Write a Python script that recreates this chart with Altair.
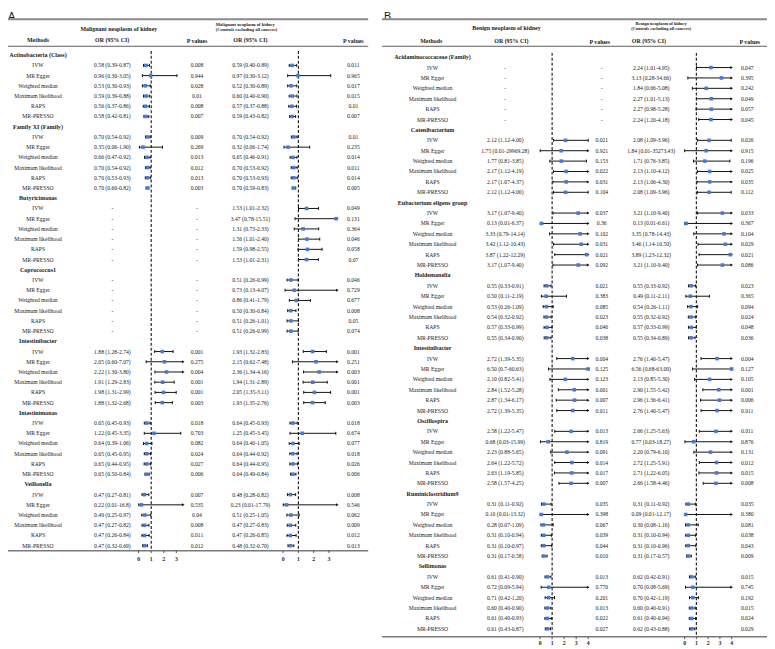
import re
import altair as alt
import pandas as pd

# ---------------- data ----------------
methods = ["IVW", "MR Egger", "Weighted median", "Maximum likelihood", "RAPS", "MR-PRESSO"]

A_groups = ["Actinobacteria (Class)", "Family XI (Family)", "Butyricimonas", "Coprococcus1",
            "Intestinibacter", "Intestinimonas", "Veillonella"]
A1_or = [
    "0.58 (0.39-0.87)", "0.96 (0.30-3.05)", "0.53 (0.30-0.93)", "0.59 (0.39-0.88)", "0.56 (0.37-0.86)", "0.58 (0.42-0.81)",
    "0.70 (0.54-0.92)", "0.35 (0.06-1.90)", "0.66 (0.47-0.92)", "0.70 (0.54-0.92)", "0.70 (0.53-0.93)", "0.70 (0.60-0.82)",
    "-", "-", "-", "-", "-", "-",
    "-", "-", "-", "-", "-", "-",
    "1.88 (1.28-2.74)", "2.05 (0.60-7.07)", "2.22 (1.30-3.80)", "1.91 (1.29-2.83)", "1.98 (1.31-2.99)", "1.88 (1.32-2.68)",
    "0.65 (0.45-0.93)", "1.22 (0.45-3.35)", "0.64 (0.39-1.06)", "0.65 (0.45-0.95)", "0.65 (0.44-0.95)", "0.65 (0.50-0.84)",
    "0.47 (0.27-0.81)", "0.22 (0.01-16.8)", "0.49 (0.25-0.97)", "0.47 (0.27-0.82)", "0.47 (0.26-0.84)", "0.47 (0.32-0.69)",
]
A1_p = [
    "0.008", "0.944", "0.028", "0.01", "0.008", "0.007",
    "0.009", "0.269", "0.013", "0.012", "0.013", "0.003",
    "-", "-", "-", "-", "-", "-",
    "-", "-", "-", "-", "-", "-",
    "0.001", "0.275", "0.004", "0.001", "0.001", "0.003",
    "0.018", "0.703", "0.082", "0.024", "0.027", "0.006",
    "0.007", "0.535", "0.04", "0.008", "0.011", "0.012",
]
A2_or = [
    "0.59 (0.40-0.89)", "0.97 (0.30-3.12)", "0.52 (0.30-0.89)", "0.60 (0.40-0.90)", "0.57 (0.37-0.88)", "0.59 (0.43-0.82)",
    "0.70 (0.54-0.92)", "0.32 (0.06-1.74)", "0.65 (0.46-0.91)", "0.70 (0.53-0.92)", "0.70 (0.53-0.93)", "0.70 (0.59-0.83)",
    "1.53 (1.01-2.32)", "3.47 (0.78-15.51)", "1.31 (0.73-2.33)", "1.56 (1.01-2.40)", "1.59 (0.98-2.55)", "1.53 (1.01-2.31)",
    "0.51 (0.26-0.99)", "0.73 (0.13-4.07)", "0.86 (0.41-1.79)", "0.50 (0.30-0.84)", "0.51 (0.26-1.01)", "0.51 (0.26-0.99)",
    "1.93 (1.32-2.83)", "2.15 (0.62-7.48)", "2.36 (1.34-4.16)", "1.94 (1.31-2.89)", "2.05 (1.35-3.11)", "1.93 (1.35-2.76)",
    "0.64 (0.45-0.93)", "1.25 (0.45-3.45)", "0.64 (0.40-1.05)", "0.64 (0.44-0.92)", "0.64 (0.44-0.95)", "0.64 (0.49-0.84)",
    "0.48 (0.28-0.82)", "0.23 (0.01-17.79)", "0.51 (0.25-1.05)", "0.47 (0.27-0.83)", "0.47 (0.26-0.85)", "0.48 (0.32-0.70)",
]
A2_p = [
    "0.011", "0.965", "0.017", "0.015", "0.01", "0.007",
    "0.01", "0.235", "0.014", "0.011", "0.014", "0.005",
    "0.049", "0.131", "0.364", "0.046", "0.058", "0.07",
    "0.046", "0.729", "0.677", "0.008", "0.05", "0.074",
    "0.001", "0.251", "0.003", "0.001", "0.001", "0.003",
    "0.018", "0.674", "0.077", "0.018", "0.026", "0.006",
    "0.008", "0.546", "0.062", "0.009", "0.012", "0.013",
]

B_groups = ["Acidaminococcaceae (Family)", "Catenibacterium", "Eubacterium eligens group", "Holdemanella",
            "Intestinibacter", "Oscillospira", "Ruminiclostridium9", "Sellimonas"]
B1_or = [
    "-", "-", "-", "-", "-", "-",
    "2.12 (1.12-4.00)", "1.75 (0.01-29969.28)", "1.77 (0.81-3.85)", "2.17 (1.12-4.19)", "2.17 (1.07-4.37)", "2.12 (1.12-4.00)",
    "3.17 (1.07-9.40)", "0.13 (0.01-6.37)", "3.33 (0.79-14.14)", "3.42 (1.12-10.43)", "3.87 (1.22-12.29)", "3.17 (1.07-9.40)",
    "0.55 (0.33-0.91)", "0.50 (0.11-2.19)", "0.53 (0.26-1.09)", "0.54 (0.32-0.92)", "0.57 (0.33-0.99)", "0.55 (0.34-0.90)",
    "2.72 (1.39-5.35)", "6.50 (0.7-60.63)", "2.10 (0.82-5.41)", "2.84 (1.52-5.28)", "2.87 (1.34-6.17)", "2.72 (1.39-5.35)",
    "2.58 (1.22-5.47)", "0.68 (0.03-15.99)", "2.23 (0.88-5.65)", "2.64 (1.22-5.72)", "2.63 (1.19-5.85)", "2.58 (1.57-4.25)",
    "0.31 (0.11-0.92)", "0.10 (0.01-13.32)", "0.28 (0.07-1.09)", "0.31 (0.10-0.94)", "0.31 (0.10-0.97)", "0.31 (0.17-0.58)",
    "0.61 (0.41-0.90)", "0.72 (0.09-5.94)", "0.71 (0.42-1.20)", "0.60 (0.40-0.90)", "0.61 (0.40-0.93)", "0.61 (0.43-0.87)",
]
B1_p = [
    "-", "-", "-", "-", "-", "-",
    "0.021", "0.921", "0.153", "0.022", "0.031", "0.104",
    "0.037", "0.36", "0.102", "0.031", "0.021", "0.092",
    "0.021", "0.383", "0.085", "0.023", "0.046", "0.038",
    "0.004", "0.125", "0.123", "0.001", "0.007", "0.011",
    "0.013", "0.819", "0.091", "0.014", "0.017", "0.007",
    "0.035", "0.398", "0.067", "0.039", "0.044", "0.010",
    "0.013", "0.770", "0.201", "0.013", "0.022", "0.027",
]
B2_or = [
    "2.24 (1.01-4.95)", "3.13 (0.28-34.66)", "1.84 (0.66-5.08)", "2.27 (1.01-5.13)", "2.27 (0.98-5.28)", "2.24 (1.20-4.18)",
    "2.08 (1.09-3.96)", "1.84 (0.01-35273.43)", "1.71 (0.76-3.85)", "2.13 (1.10-4.12)", "2.13 (1.06-4.30)", "2.08 (1.09-3.96)",
    "3.21 (1.10-9.40)", "0.13 (0.01-6.61)", "3.35 (0.78-14.43)", "3.46 (1.14-10.50)", "3.89 (1.23-12.32)", "3.21 (1.10-9.40)",
    "0.55 (0.33-0.92)", "0.49 (0.11-2.11)", "0.54 (0.26-1.11)", "0.55 (0.32-0.92)", "0.57 (0.33-0.99)", "0.55 (0.34-0.89)",
    "2.76 (1.40-5.47)", "6.56 (0.68-63.00)", "2.13 (0.85-5.30)", "2.90 (1.55-5.42)", "2.96 (1.36-6.41)", "2.76 (1.40-5.47)",
    "2.66 (1.25-5.63)", "0.77 (0.03-18.27)", "2.20 (0.79-6.10)", "2.72 (1.25-5.91)", "2.71 (1.22-6.05)", "2.66 (1.58-4.46)",
    "0.31 (0.11-0.92)", "0.09 (0.01-12.17)", "0.30 (0.08-1.16)", "0.31 (0.10-0.94)", "0.31 (0.10-0.96)", "0.31 (0.17-0.57)",
    "0.62 (0.42-0.91)", "0.70 (0.08-5.69)", "0.70 (0.42-1.19)", "0.60 (0.40-0.91)", "0.61 (0.40-0.94)", "0.62 (0.43-0.88)",
]
B2_p = [
    "0.047", "0.395", "0.242", "0.049", "0.057", "0.045",
    "0.026", "0.915", "0.196", "0.025", "0.035", "0.112",
    "0.033", "0.367", "0.104", "0.029", "0.021", "0.086",
    "0.023", "0.365", "0.094", "0.024", "0.048", "0.036",
    "0.004", "0.127", "0.105", "0.001", "0.006", "0.011",
    "0.011", "0.876", "0.131", "0.012", "0.015", "0.008",
    "0.035", "0.380", "0.081", "0.038", "0.043", "0.009",
    "0.015", "0.745", "0.192", "0.015", "0.024", "0.029",
]

A_ticks = [0, 1, 2, 3]
B_ticks = [0, 1, 2, 3, 4]

# ---------------- helpers ----------------
SERIF = "Liberation Serif"
SANS = "Liberation Sans"
TXT = "#1a1a1a"
PT = "#4a78d8"
OX, OY = 8, 8


def X(v):
    return v - OX


def Y(v):
    return v - OY


pat = re.compile(r"([\d.]+) \(([\d.]+)-([\d.]+)\)")


def parse(s):
    m = pat.match(s)
    if not m:
        return (None, None, None)
    return tuple(float(g) for g in m.groups())


def build_rows(groups, or1, p1, or2, p2):
    recs = []
    r = 0
    for gi, g in enumerate(groups):
        recs.append(dict(row=r, label=g, kind="group", or1="", p1="", or2="", p2=""))
        r += 1
        for mi, m in enumerate(methods):
            k = gi * 6 + mi
            e1, l1, h1 = parse(or1[k])
            e2, l2, h2 = parse(or2[k])
            recs.append(dict(row=r, label=m, kind="method", or1=or1[k], p1=p1[k], or2=or2[k], p2=p2[k],
                             e1=e1, l1=l1, h1=h1, e2=e2, l2=l2, h2=h2))
            r += 1
    return pd.DataFrame(recs)


dfA = build_rows(A_groups, A1_or, A1_p, A2_or, A2_p)
dfB = build_rows(B_groups, B1_or, B1_p, B2_or, B2_p)

dummy = pd.DataFrame({"d": [0]})


def label(text, x, y, size, bold=False, align="center", font=SERIF, baseline="middle"):
    return alt.Chart(dummy).mark_text(
        text=text, fontSize=size, fontWeight="bold" if bold else "normal", font=font,
        align=align, baseline=baseline, color=TXT
    ).encode(x=alt.value(X(x)), y=alt.value(Y(y)))


def hline(x1, x2, y, color, w):
    return alt.Chart(dummy).mark_rule(color=color, strokeWidth=w).encode(
        x=alt.value(X(x1)), x2=alt.value(X(x2)), y=alt.value(Y(y)))


def text_col(df, field, x, ys, size=5.7, bold=False, kind="method"):
    return alt.Chart(df).transform_filter(f"datum.kind == '{kind}'").mark_text(
        fontSize=size, font=SERIF, fontWeight="bold" if bold else "normal", color=TXT,
        align="center", baseline="middle"
    ).encode(x=alt.value(X(x)), y=alt.Y("row:Q", scale=ys, axis=None), text=f"{field}:N")


def forest(df, e, l, h, xs, ys, dmax, y_top, y_bot, ticks, tick_y):
    base = alt.Chart(df).transform_filter(f"isValid(datum.{e})")
    yenc = alt.Y("row:Q", scale=ys, axis=None)
    layers = []
    layers.append(alt.Chart(pd.DataFrame({"v": [1]})).mark_rule(
        color="#111", strokeWidth=1.1, strokeDash=[3, 2]
    ).encode(x=alt.X("v:Q", scale=xs, axis=None), y=alt.value(Y(y_top)), y2=alt.value(Y(y_bot))))
    layers.append(base.mark_rule(color="#111", strokeWidth=1).encode(
        x=alt.X(f"{l}:Q", scale=xs, axis=None), x2=alt.X2(f"{h}"), y=yenc))
    layers.append(base.mark_point(shape="M0,-1L0,1", size=9, strokeWidth=1, color="#111", opacity=1).encode(
        x=alt.X(f"{l}:Q", scale=xs, axis=None), y=yenc))
    layers.append(base.transform_filter(f"datum.{h} <= {dmax}").mark_point(
        shape="M0,-1L0,1", size=9, strokeWidth=1, color="#111", opacity=1).encode(
        x=alt.X(f"{h}:Q", scale=xs, axis=None), y=yenc))
    layers.append(base.transform_filter(f"datum.{h} > {dmax}").mark_point(
        shape="triangle-right", size=9, filled=True, color="#111", opacity=1).encode(
        x=alt.X(f"{h}:Q", scale=xs, axis=None), y=yenc))
    layers.append(base.mark_point(shape="square", size=13, filled=True, color=PT, opacity=1).encode(
        x=alt.X(f"{e}:Q", scale=xs, axis=None), y=yenc))
    tdf = pd.DataFrame({"t": ticks})
    layers.append(alt.Chart(tdf).mark_rule(color="#333", strokeWidth=0.8).encode(
        x=alt.X("t:Q", scale=xs, axis=None), y=alt.value(Y(y_bot)), y2=alt.value(Y(y_bot + 2.5))))
    layers.append(alt.Chart(tdf).mark_text(fontSize=5.8, font=SERIF, fontWeight="bold", color=TXT,
                                           baseline="middle").encode(
        x=alt.X("t:Q", scale=xs, axis=None), y=alt.value(Y(tick_y)), text="t:Q"))
    return layers


def xscale(dmin, dmax, p0, p1):
    return alt.Scale(domain=[dmin, dmax], range=[X(p0), X(p1)], clamp=True, nice=False, zero=False)


yA = alt.Scale(domain=[0, 48], range=[Y(52.3), Y(548.0)], nice=False, zero=False)
yB = alt.Scale(domain=[0, 55], range=[Y(54.3), Y(632.0)], nice=False, zero=False)

xA1 = xscale(0, 3.55, 140.0, 185.1)
xA2 = xscale(0, 3.55, 286.0, 340.8)
xB1 = xscale(0, 4.0, 545.7, 594.3)
xB2 = xscale(0, 4.0, 691.7, 739.3)

layers = []

# ---------- Panel A ----------
layers.append(label("A", 8, 8, 11, font=SANS, align="left", baseline="top"))
layers.append(hline(0, 372, 16, "#8a8a8a", 2))
layers.append(hline(0, 372, 43.3, "#333333", 0.8))
layers.append(hline(0, 372, 553, "#7a7a7a", 1.5))
layers.append(label("Malignant neoplasm of kidney", 120, 25.7, 6, bold=True))
layers.append(label("Malignant neoplasm of kidney", 218, 21.7, 4.6, bold=True, align="left"))
layers.append(label("(Controls excluding all cancers)", 218, 26.7, 4.6, bold=True, align="left"))
layers.append(label("Methods", 38.3, 36.7, 6, bold=True))
layers.append(label("OR (95% CI)", 113.3, 36.7, 6, bold=True))
layers.append(label("P values", 199, 37.7, 6, bold=True))
layers.append(label("OR (95% CI)", 253, 36.7, 6, bold=True))
layers.append(label("P values", 357, 37.7, 6, bold=True))

layers.append(text_col(dfA, "label", 38.3, yA, size=6.1, bold=True, kind="group"))
layers.append(text_col(dfA, "label", 38.3, yA))
layers.append(text_col(dfA, "or1", 113.5, yA))
layers.append(text_col(dfA, "p1", 199, yA))
layers.append(text_col(dfA, "or2", 253, yA))
layers.append(text_col(dfA, "p2", 357, yA))
layers += forest(dfA, "e1", "l1", "h1", xA1, yA, 3.55, 48, 553, A_ticks, 561)
layers += forest(dfA, "e2", "l2", "h2", xA2, yA, 3.55, 48, 553, A_ticks, 561)

# ---------- Panel B ----------
layers.append(label("B", 388, 8, 11, font=SANS, align="left", baseline="top"))
layers.append(hline(386, 775, 16, "#8a8a8a", 2))
layers.append(hline(386, 775, 43.3, "#333333", 0.8))
layers.append(hline(386, 775, 640, "#7a7a7a", 1.5))
layers.append(label("Benign neoplasm of kidney", 511.7, 25, 6, bold=True))
layers.append(label("Benign neoplasm of kidney", 668, 20.7, 4.5, bold=True))
layers.append(label("(Controls excluding all cancers)", 668, 25.7, 4.5, bold=True))
layers.append(label("Methods", 435.7, 37.7, 6, bold=True))
layers.append(label("OR (95% CI)", 516.7, 37.7, 6, bold=True))
layers.append(label("P values", 606, 38.7, 6, bold=True))
layers.append(label("OR (95% CI)", 655.7, 37.7, 6, bold=True))
layers.append(label("P values", 757.7, 38.7, 6, bold=True))

layers.append(text_col(dfB, "label", 437, yB, size=6.1, bold=True, kind="group"))
layers.append(text_col(dfB, "label", 437, yB))
layers.append(text_col(dfB, "or1", 510.5, yB))
layers.append(text_col(dfB, "p1", 608, yB))
layers.append(text_col(dfB, "or2", 658, yB))
layers.append(text_col(dfB, "p2", 755, yB))
layers += forest(dfB, "e1", "l1", "h1", xB1, yB, 4.0, 50, 640, B_ticks, 646)
layers += forest(dfB, "e2", "l2", "h2", xB2, yB, 4.0, 50, 640, B_ticks, 646)

chart = alt.layer(*layers).resolve_scale(x="independent", y="independent").properties(
    width=767, height=641, padding=0, autosize="none", background="white"
).configure_view(stroke=None)

chart.save("out.html", embed_options={"renderer": "svg", "actions": False})
